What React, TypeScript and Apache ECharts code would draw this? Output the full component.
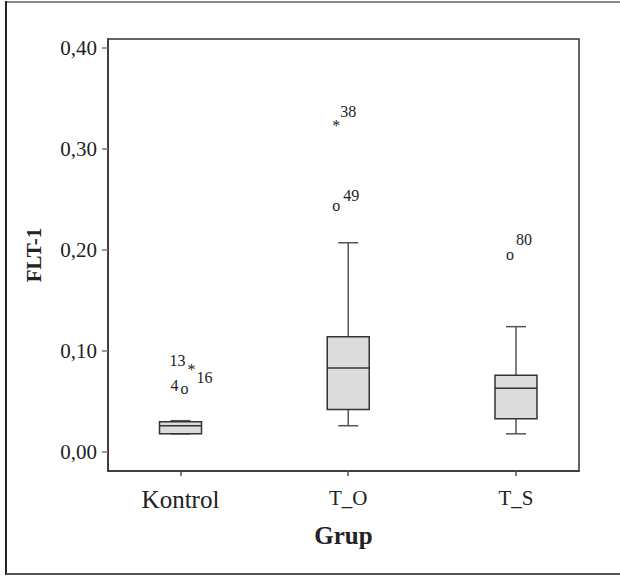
import React, { useEffect, useRef } from "react";
import * as echarts from "echarts";

// ---------- data ----------
const categories = ["Kontrol", "T_O", "T_S"];
// [lower whisker, Q1, median, Q3, upper whisker]
const boxKontrol = [0.018, 0.018, 0.026, 0.030, 0.031];
const boxTO = [0.026, 0.042, 0.083, 0.114, 0.207];
const boxTS = [0.018, 0.033, 0.063, 0.076, 0.124];
const boxes = [boxKontrol, boxTO, boxTS];

const outlierCase = ["13", "16", "4", "38", "49", "80"];
const outlierGroup = [0, 0, 0, 1, 1, 2];
const outlierValue = [0.085, 0.085, 0.061, 0.326, 0.242, 0.193];
const outlierKind = ["extreme", "extreme", "outlier", "extreme", "outlier", "outlier"];

const yTicks = [0, 0.1, 0.2, 0.3, 0.4];
const xTicks = [0, 1, 2];

// ---------- style / layout ----------
const FONT = "Liberation Serif, serif";
const TEXT = "#222";
const BOX_FILL = "#dcdcdc";
const BOX_STROKE = "#333";
const WHISKER = "#555";
const BOX_W = 42;
const CAP_W = 20;
// marker x shift from box centre, label offset from marker (px)
const OUTLIER_LAYOUT: Record<string, { mdx: number; ldx: number; ldy: number; marker: boolean }> = {
  "13": { mdx: 11, ldx: -14, ldy: -6, marker: true },
  "16": { mdx: 11, ldx: 13, ldy: 11, marker: false },
  "4": { mdx: 4, ldx: -10, ldy: -5, marker: true },
  "38": { mdx: -12, ldx: 12, ldy: -11, marker: true },
  "49": { mdx: -12, ldx: 15, ldy: -12, marker: true },
  "80": { mdx: -6, ldx: 14, ldy: -17, marker: true },
};

export default function App() {
  const ref = useRef<HTMLDivElement>(null);
  useEffect(() => {
    if (!ref.current) return;
    const chart = echarts.init(ref.current, undefined, { renderer: "svg" });

    const boxData = boxes.map((b, i) => [i, ...b]);
    const outData = outlierCase.map((c, i) => [outlierGroup[i], outlierValue[i], i]);

    const txt = (text: string, x: number, y: number) => ({
      type: "text",
      x,
      y,
      style: {
        text,
        font: `16px ${FONT}`,
        fontSize: 16,
        fontFamily: FONT,
        fill: TEXT,
        align: "center",
        verticalAlign: "middle",
      },
    });

    const option: any = {
      animation: false,
      backgroundColor: "#fff",
      textStyle: { fontFamily: FONT },
      grid: {
        left: 108,
        right: 41,
        top: 39,
        bottom: 105,
        show: true,
        borderColor: "#333",
        borderWidth: 1.5,
      },
      xAxis: {
        type: "value",
        min: -0.4322,
        max: 2.3756,
        splitLine: { show: false },
        axisLine: { show: true, onZero: false, lineStyle: { color: "#333", width: 1.5 } },
        axisTick: { show: true, customValues: xTicks, length: 5, lineStyle: { color: "#555", width: 1.5 } },
        axisLabel: {
          customValues: xTicks,
          formatter: (v: number) => {
            const i = Math.round(v);
            return i === 0 ? `{big|${categories[i]}}` : `{sm|${categories[i]}}`;
          },
          rich: {
            big: { fontSize: 25, fontFamily: FONT, color: TEXT },
            sm: { fontSize: 21, fontFamily: FONT, color: TEXT },
          },
          fontSize: 21,
          fontFamily: FONT,
          color: TEXT,
          margin: 16,
        },
        name: "Grup",
        nameLocation: "middle",
        nameGap: 52,
        nameTextStyle: { fontWeight: "bold", fontSize: 25, fontFamily: FONT, color: TEXT },
      },
      yAxis: {
        type: "value",
        min: -0.0188,
        max: 0.4086,
        splitLine: { show: false },
        axisLine: { show: true, onZero: false, lineStyle: { color: "#333", width: 1.5 } },
        axisTick: { show: true, customValues: yTicks, length: 6, lineStyle: { color: "#777", width: 1.5 } },
        axisLabel: {
          customValues: yTicks,
          formatter: (v: number) => `{n|${v.toFixed(2).replace(".", ",")}}`,
          rich: { n: { fontSize: 21, fontFamily: FONT, color: TEXT } },
          fontSize: 21,
          fontFamily: FONT,
          color: TEXT,
          margin: 11,
        },
        name: "FLT-1",
        nameLocation: "middle",
        nameRotate: 90,
        nameGap: 64,
        nameTextStyle: { fontWeight: "bold", fontSize: 21, fontFamily: FONT, color: TEXT },
      },
      graphic: [
        { type: "line", shape: { x1: 6, y1: 2, x2: 620, y2: 2 }, style: { stroke: "#888", lineWidth: 2 } },
        { type: "line", shape: { x1: 6, y1: 1, x2: 6, y2: 575 }, style: { stroke: "#222", lineWidth: 2 } },
        { type: "line", shape: { x1: 6, y1: 574, x2: 620, y2: 574 }, style: { stroke: "#555", lineWidth: 2 } },
      ],
      series: [
        {
          type: "custom",
          data: boxData,
          encode: { x: 0, y: [1, 2, 3, 4, 5] },
          renderItem: (_p: any, api: any) => {
            const x = api.value(0);
            const lo = api.coord([x, api.value(1)]);
            const q1 = api.coord([x, api.value(2)]);
            const med = api.coord([x, api.value(3)]);
            const q3 = api.coord([x, api.value(4)]);
            const hi = api.coord([x, api.value(5)]);
            const cx = lo[0];
            const hw = BOX_W / 2;
            const cw = CAP_W / 2;
            const ws = { stroke: WHISKER, lineWidth: 1.5 };
            return {
              type: "group",
              children: [
                { type: "line", shape: { x1: cx, y1: hi[1], x2: cx, y2: q3[1] }, style: ws },
                { type: "line", shape: { x1: cx, y1: q1[1], x2: cx, y2: lo[1] }, style: ws },
                { type: "line", shape: { x1: cx - cw, y1: hi[1], x2: cx + cw, y2: hi[1] }, style: ws },
                { type: "line", shape: { x1: cx - cw, y1: lo[1], x2: cx + cw, y2: lo[1] }, style: ws },
                {
                  type: "rect",
                  shape: { x: cx - hw, y: q3[1], width: 2 * hw, height: q1[1] - q3[1] },
                  style: { fill: BOX_FILL, stroke: BOX_STROKE, lineWidth: 1.5 },
                },
                {
                  type: "line",
                  shape: { x1: cx - hw, y1: med[1], x2: cx + hw, y2: med[1] },
                  style: { stroke: BOX_STROKE, lineWidth: 1.5 },
                },
              ],
            };
          },
        },
        {
          type: "custom",
          data: outData,
          encode: { x: 0, y: 1 },
          renderItem: (_p: any, api: any) => {
            const i = api.value(2);
            const c = api.coord([api.value(0), api.value(1)]);
            const lay = OUTLIER_LAYOUT[outlierCase[i]];
            const mx = c[0] + lay.mdx;
            const my = c[1];
            const isExtreme = outlierKind[i] === "extreme";
            const children: any[] = [];
            if (lay.marker) {
              children.push(txt(isExtreme ? "*" : "o", mx, isExtreme ? my + 3 : my - 2));
            }
            children.push(txt(outlierCase[i], mx + lay.ldx, my + lay.ldy));
            return { type: "group", children };
          },
        },
      ],
    };
    chart.setOption(option);
    return () => chart.dispose();
  }, []);
  return (
    <div
      ref={ref}
      style={{ position: "fixed", left: 0, top: 0, width: 620, height: 576, background: "#fff" }}
    />
  );
}
